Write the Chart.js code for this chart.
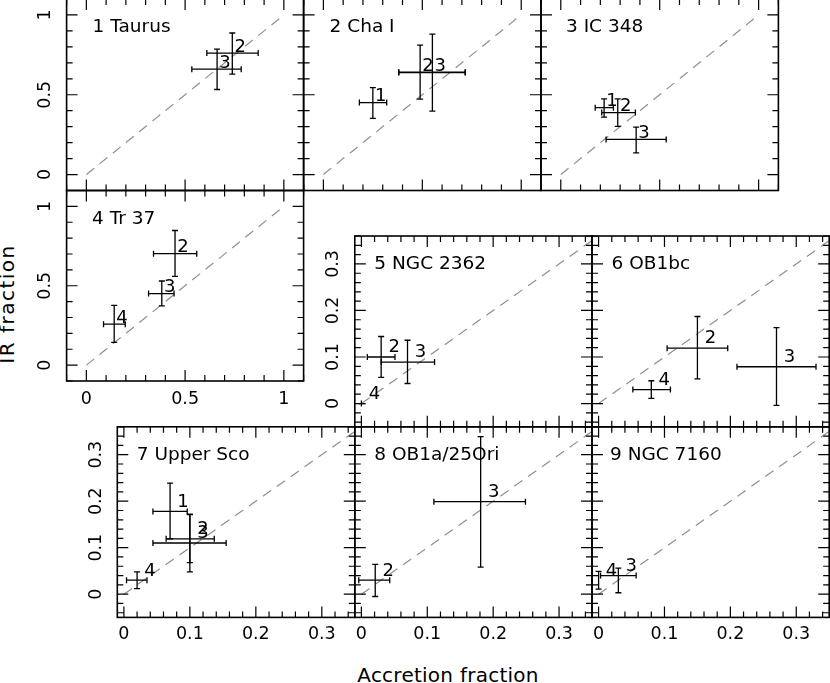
<!DOCTYPE html>
<html>
<head>
<meta charset="utf-8">
<script src="https://cdn.jsdelivr.net/npm/chart.js@4/dist/chart.umd.min.js"></script>
<style>
    body { margin: 0; background: #fff; width: 830px; height: 683px; position: relative; overflow: hidden; font-family: "DejaVu Sans", sans-serif; }
    canvas { position: absolute; left: 0; top: -20px; }
    .tituloEje { position: absolute; font-size: 20px; line-height: 20px; color: #000; text-align: center; white-space: nowrap; }
    #tituloX { left: 348px; top: 664.6px; width: 200px; letter-spacing: 0.25px; }
    #tituloY { left: -92.9px; top: 294px; width: 200px; letter-spacing: 1.5px; transform: rotate(-90deg); }
</style>
</head>
<body>
<div class="tituloEje" id="tituloX">Accretion fraction</div>
<div class="tituloEje" id="tituloY">IR fraction</div>
<script>
let nombres = ['1 Taurus', '2 Cha I', '3 IC 348', '4 Tr 37', '5 NGC 2362', '6 OB1bc', '7 Upper Sco', '8 OB1a/25Ori', '9 NGC 7160'];

let grupos = [
    ['2', '3'],
    ['1', '2', '3'],
    ['1', '2', '3'],
    ['2', '3', '4'],
    ['2', '3', '4'],
    ['2', '3', '4'],
    ['1', '2', '3', '4'],
    ['2', '3'],
    ['4', '3']
];

// fraccion de acrecion (eje x) con su intervalo
let acrecion = [
    [0.739, 0.662],
    [0.25, 0.489, 0.551],
    [0.219, 0.288, 0.381],
    [0.449, 0.382, 0.141],
    [0.03, 0.07, 0.0],
    [0.15, 0.27, 0.08],
    [0.07, 0.1, 0.1, 0.02],
    [0.021, 0.181],
    [0.0, 0.03]
];
let acrecionMin = [
    [0.61, 0.534],
    [0.182, 0.381, 0.381],
    [0.174, 0.207, 0.229],
    [0.34, 0.315, 0.087],
    [0.009, 0.03, 0.0],
    [0.104, 0.21, 0.052],
    [0.044, 0.064, 0.044, 0.004],
    [-0.004, 0.11],
    [0.0, 0.003]
];
let acrecionMax = [
    [0.87, 0.784],
    [0.32, 0.717, 0.717],
    [0.266, 0.377, 0.533],
    [0.559, 0.444, 0.197],
    [0.051, 0.111, 0.0],
    [0.196, 0.33, 0.109],
    [0.096, 0.137, 0.155, 0.035],
    [0.043, 0.249],
    [0.0, 0.057]
];

// fraccion IR (eje y) con su intervalo
let fraccionIR = [
    [0.761, 0.66],
    [0.451, 0.641, 0.639],
    [0.419, 0.388, 0.22],
    [0.702, 0.451, 0.258],
    [0.1, 0.089, 0.0],
    [0.119, 0.079, 0.03],
    [0.178, 0.119, 0.11, 0.03],
    [0.03, 0.199],
    [0.03, 0.04]
];
let irMin = [
    [0.629, 0.533],
    [0.352, 0.472, 0.398],
    [0.36, 0.302, 0.136],
    [0.559, 0.373, 0.143],
    [0.056, 0.043, 0.0],
    [0.053, -0.004, 0.011],
    [0.119, 0.068, 0.048, 0.012],
    [-0.005, 0.058],
    [0.011, 0.003]
];
let irMax = [
    [0.887, 0.786],
    [0.545, 0.811, 0.88],
    [0.474, 0.474, 0.297],
    [0.848, 0.53, 0.377],
    [0.144, 0.136, 0.0],
    [0.187, 0.163, 0.049],
    [0.239, 0.171, 0.172, 0.048],
    [0.064, 0.339],
    [0.049, 0.056]
];

let marcasGrandes = [0, 0.5, 1];
let marcasChicas = [0, 0.1, 0.2, 0.3];

// cajas de cada panel en la pagina
let cajas = [
    { l: 66.6, t: -1, r: 303.6, b: 190.5, chico: false, ejeY: true, ejeX: false, sangria: 26 },
    { l: 303.6, t: -1, r: 541, b: 190.5, chico: false, ejeY: false, ejeX: false, sangria: 26 },
    { l: 541, t: -1, r: 778.4, b: 190.5, chico: false, ejeY: false, ejeX: false, sangria: 25 },
    { l: 66.6, t: 190.5, r: 303.6, b: 381, chico: false, ejeY: true, ejeX: true, sangria: 25.5, padX: 8 },
    { l: 354.8, t: 236, r: 592, b: 426.8, chico: true, ejeY: true, ejeX: false, sangria: 19.5 },
    { l: 592, t: 236, r: 829.2, b: 426.8, chico: true, ejeY: false, ejeX: false, sangria: 19.5 },
    { l: 117.3, t: 426.8, r: 354.8, b: 617.4, chico: true, ejeY: true, ejeX: true, sangria: 19.5, padX: 7 },
    { l: 354.8, t: 426.8, r: 592, b: 617.4, chico: true, ejeY: false, ejeX: true, sangria: 19.5, padX: 7 },
    { l: 592, t: 426.8, r: 829.2, b: 617.4, chico: true, ejeY: false, ejeX: true, sangria: 18, padX: 7 }
];

let DESPLAZA = 20;
let ANCHO = 830;
let ALTO = 683 + DESPLAZA;

let pluginMarco = {
    id: 'marco',
    afterDraw: function(chart) {
        let ctx = chart.ctx;
        let a = chart.chartArea;
        let sx = chart.scales.x;
        let sy = chart.scales.y;
        let paso = chart.options.plugins.marco.paso;

        ctx.save();
        ctx.strokeStyle = '#000';
        ctx.lineWidth = 1.2;
        ctx.beginPath();
        for (let k = Math.ceil(sx.min / paso - 1e-6); k <= Math.floor(sx.max / paso + 1e-6); k++) {
            let px = sx.getPixelForValue(k * paso);
            let largo = (k % 5 === 0) ? 11 : 6;
            ctx.moveTo(px, a.bottom);
            ctx.lineTo(px, a.bottom - largo);
            ctx.moveTo(px, a.top);
            ctx.lineTo(px, a.top + largo);
        }
        for (let k = Math.ceil(sy.min / paso - 1e-6); k <= Math.floor(sy.max / paso + 1e-6); k++) {
            let py = sy.getPixelForValue(k * paso);
            let largo = (k % 5 === 0) ? 11 : 6;
            ctx.moveTo(a.left, py);
            ctx.lineTo(a.left + largo, py);
            ctx.moveTo(a.right, py);
            ctx.lineTo(a.right - largo, py);
        }
        ctx.stroke();

        ctx.lineWidth = 1.6;
        ctx.strokeRect(a.left, a.top, a.right - a.left, a.bottom - a.top);

        ctx.fillStyle = '#000';
        ctx.font = '18.5px "DejaVu Sans"';
        ctx.textAlign = 'left';
        ctx.textBaseline = 'alphabetic';
        ctx.fillText(chart.options.plugins.marco.titulo, a.left + chart.options.plugins.marco.sangria, a.top + 33);
        ctx.restore();
    }
};

let pluginBarras = {
    id: 'barras',
    afterDatasetsDraw: function(chart) {
        let ctx = chart.ctx;
        let sx = chart.scales.x;
        let sy = chart.scales.y;
        let puntos = chart.data.datasets[0].data;
        let tapa = 3;

        ctx.save();
        ctx.strokeStyle = '#000';
        ctx.fillStyle = '#000';
        ctx.lineWidth = 1.3;
        ctx.font = '18px "DejaVu Sans"';
        ctx.textAlign = 'left';
        ctx.textBaseline = 'alphabetic';
        for (let i = 0; i < puntos.length; i++) {
            let p = puntos[i];
            let x = sx.getPixelForValue(p.x);
            let y = sy.getPixelForValue(p.y);
            let x0 = sx.getPixelForValue(p.xMin);
            let x1 = sx.getPixelForValue(p.xMax);
            let y0 = sy.getPixelForValue(p.yMin);
            let y1 = sy.getPixelForValue(p.yMax);
            ctx.beginPath();
            ctx.moveTo(x0, y);
            ctx.lineTo(x1, y);
            ctx.moveTo(x, y0);
            ctx.lineTo(x, y1);
            ctx.moveTo(x0, y - tapa);
            ctx.lineTo(x0, y + tapa);
            ctx.moveTo(x1, y - tapa);
            ctx.lineTo(x1, y + tapa);
            ctx.moveTo(x - tapa, y0);
            ctx.lineTo(x + tapa, y0);
            ctx.moveTo(x - tapa, y1);
            ctx.lineTo(x + tapa, y1);
            ctx.stroke();
            ctx.fillText(p.grupo, sx.getPixelForValue(p.x + 0.011), sy.getPixelForValue(p.y + 0.01));
        }
        ctx.restore();
    }
};

function crearPanel(n) {
    let c = cajas[n];
    let lienzo = document.createElement('canvas');
    lienzo.width = ANCHO;
    lienzo.height = ALTO;
    document.body.appendChild(lienzo);

    // los ejes ocultos no ocupan sitio
    let anchoY = c.ejeY ? 50 : 0;
    let altoX = c.ejeX ? 40 : 0;
    let relleno = {
        left: c.l - anchoY,
        top: c.t + DESPLAZA,
        right: ANCHO - c.r,
        bottom: ALTO - (c.b + DESPLAZA) - altoX
    };

    let puntos = [];
    for (let i = 0; i < grupos[n].length; i++) {
        puntos.push({
            x: acrecion[n][i],
            y: fraccionIR[n][i],
            xMin: acrecionMin[n][i],
            xMax: acrecionMax[n][i],
            yMin: irMin[n][i],
            yMax: irMax[n][i],
            grupo: grupos[n][i]
        });
    }

    let marcas = c.chico ? marcasChicas : marcasGrandes;
    let fuente = { family: 'DejaVu Sans', size: 17.5 };

    new Chart(lienzo, {
        type: 'scatter',
        data: {
            datasets: [{
                label: 'grupos',
                data: puntos,
                pointRadius: 0,
                pointHoverRadius: 0
            }, {
                label: 'uno a uno',
                data: [{ x: 0, y: 0 }, { x: 1, y: 1 }],
                showLine: true,
                borderColor: '#8f8f8f',
                borderWidth: 1.2,
                borderDash: [10, 7],
                pointRadius: 0,
                clip: 0
            }]
        },
        options: {
            responsive: false,
            animation: false,
            devicePixelRatio: 1,
            events: [],
            layout: { padding: relleno, autoPadding: false },
            plugins: {
                legend: { display: false },
                tooltip: { enabled: false },
                marco: { titulo: nombres[n], sangria: c.sangria, paso: c.chico ? 0.02 : 0.1 }
            },
            scales: {
                x: {
                    type: 'linear',
                    position: 'bottom',
                    min: c.chico ? -0.01 : -0.1,
                    max: c.chico ? 0.35 : 1.1,
                    display: c.ejeX,
                    grid: { display: false, drawTicks: false },
                    border: { display: false },
                    afterBuildTicks: function(s) {
                        s.ticks = marcas.map(function(v) { return { value: v }; });
                    },
                    afterFit: function(s) {
                        s.height = altoX;
                        s.paddingLeft = 0;
                        s.paddingRight = 0;
                    },
                    ticks: {
                        autoSkip: false,
                        maxRotation: 0,
                        padding: c.padX || 7,
                        color: '#000',
                        font: fuente,
                        callback: function(v) { return String(v); }
                    }
                },
                y: {
                    type: 'linear',
                    position: 'left',
                    min: c.chico ? -0.05 : -0.1,
                    max: c.chico ? 0.36 : 1.1,
                    display: c.ejeY,
                    grid: { display: false, drawTicks: false },
                    border: { display: false },
                    afterBuildTicks: function(s) {
                        s.ticks = marcas.map(function(v) { return { value: v }; });
                    },
                    afterFit: function(s) {
                        s.width = anchoY;
                        s.paddingTop = 0;
                        s.paddingBottom = 0;
                    },
                    ticks: {
                        autoSkip: false,
                        minRotation: 90,
                        maxRotation: 90,
                        crossAlign: 'center',
                        padding: 7,
                        color: '#000',
                        font: fuente,
                        callback: function(v) { return String(v); }
                    }
                }
            }
        },
        plugins: [pluginMarco, pluginBarras]
    });
}

for (let n = 0; n < cajas.length; n++) {
    crearPanel(n);
}
</script>
</body>
</html>
